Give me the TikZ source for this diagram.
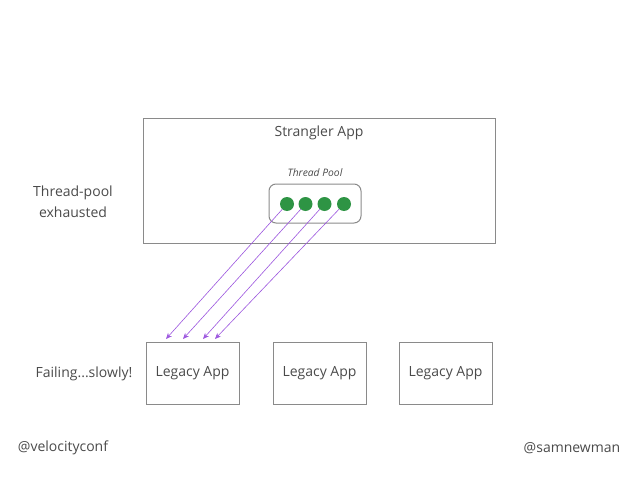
\documentclass[tikz,border=0pt]{standalone}
\usepackage{fontspec}
\setmainfont{Open Sans}
\usetikzlibrary{arrows.meta}
\definecolor{txt}{HTML}{4A4A4A}
\definecolor{boxc}{HTML}{8A8A8A}
\definecolor{dotc}{HTML}{2E9444}
\definecolor{arrc}{HTML}{9B55DE}
\tikzset{
  appbox/.style={draw=boxc, line width=1pt, minimum width=93pt, minimum height=62pt, inner sep=0pt, text=txt, font=\fontsize{14}{16}\selectfont},
  lbl/.style={text=txt, font=\fontsize{14}{21}\selectfont, inner sep=0pt, align=center},
  dot/.style={circle, fill=dotc, minimum size=14pt, inner sep=0pt},
  call/.style={draw=arrc, line width=0.6pt, -{Stealth[length=6pt,width=5pt]}}
}
\begin{document}
\begin{tikzpicture}[x=1pt,y=-1pt]
\useasboundingbox (0,0) rectangle (638,479);
\node[draw=boxc, line width=1pt, minimum width=352pt, minimum height=125pt, inner sep=0pt] (strangler) at (319,180.5) {};
\node[lbl] (stitle) at (319,133) {Strangler App};
\node[lbl, font=\itshape\fontsize{10.3}{12}\selectfont] (tptitle) at (315,173) {Thread Pool};
\node[draw=boxc, line width=1pt, rounded corners=7pt, minimum width=92pt, minimum height=39pt, inner sep=0pt] (pool) at (315,203.5) {};
\node[dot] (d1) at (287,204) {};
\node[dot] (d2) at (305.5,204) {};
\node[dot] (d3) at (324.5,204) {};
\node[dot] (d4) at (344,204) {};
\node[appbox] (l1) at (192.5,373) {Legacy App};
\node[appbox] (l2) at (319.5,373) {Legacy App};
\node[appbox] (l3) at (445.5,373) {Legacy App};
\coordinate (e1) at (166,339);
\coordinate (e2) at (183,339);
\coordinate (e3) at (203,339);
\coordinate (e4) at (215,339);
\draw[call] (d1) -- (e1);
\draw[call] (d2) -- (e2);
\draw[call] (d3) -- (e3);
\draw[call] (d4) -- (e4);
\node[lbl] (exh) at (73,202) {Thread-pool\\exhausted};
\node[lbl] (fail) at (84,374) {Failing...slowly!};
\node[lbl] (vc) at (63,448) {@velocityconf};
\node[lbl] (sn) at (572,448) {@samnewman};
\end{tikzpicture}
\end{document}
